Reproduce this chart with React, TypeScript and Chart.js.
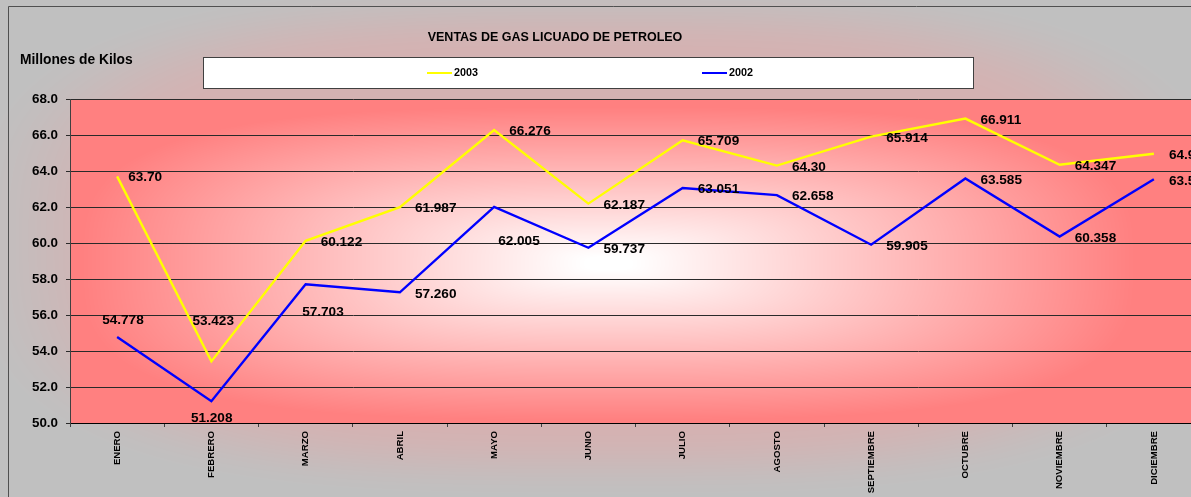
import React, { useEffect, useRef } from "react";
import { Chart, registerables } from "chart.js";

Chart.register(...registerables);

// ---- data ----
const months = ["ENERO", "FEBRERO", "MARZO", "ABRIL", "MAYO", "JUNIO", "JULIO", "AGOSTO", "SEPTIEMBRE", "OCTUBRE", "NOVIEMBRE", "DICIEMBRE"];
const ventas2003 = [63.7, 53.423, 60.122, 61.987, 66.276, 62.187, 65.709, 64.3, 65.914, 66.911, 64.347, 64.962];
const ventas2002 = [54.778, 51.208, 57.703, 57.26, 62.005, 59.737, 63.051, 62.658, 59.905, 63.585, 60.358, 63.541];
const labels2003 = ["63.70", "53.423", "60.122", "61.987", "66.276", "62.187", "65.709", "64.30", "65.914", "66.911", "64.347", "64.962"];
const labels2002 = ["54.778", "51.208", "57.703", "57.260", "62.005", "59.737", "63.051", "62.658", "59.905", "63.585", "60.358", "63.541"];
const yMin = 50;
const yMax = 68;
const yStep = 2;
const chartTitle = "VENTAS DE GAS LICUADO DE PETROLEO";
const yAxisTitle = "Millones de Kilos";
const seriesNames = ["2003", "2002"];

// ---- label placement (style: offsets of label text from its point) ----
const DEF: [number, number] = [15, 1.5];
const place2003: [number, number][] = [[11, 1.3], [-19, -40], DEF, DEF, DEF, DEF, DEF, DEF, DEF, DEF, DEF, DEF];
const place2002: [number, number][] = [[-15, -16.5], [-20.5, 17], [-3.5, 28], DEF, [4, 34], DEF, DEF, DEF, DEF, DEF, DEF, DEF];

const FONT = "'Liberation Sans', Arial, Helvetica, sans-serif";
const YELLOW = "#ffff00";
const BLUE = "#0000ff";

const CW = 1218;
const CH = 497;

function clamp01(v: number) {
  return v < 0 ? 0 : v > 1 ? 1 : v;
}
function smooth(a: number, b: number, t: number) {
  const x = clamp01((t - a) / (b - a));
  return x * x * (3 - 2 * x);
}
function pnorm(ax: number, ay: number, p: number) {
  return Math.pow(Math.pow(ax, p) + Math.pow(ay, p), 1 / p);
}

function buildBackdrop(area: any) {
  const c = document.createElement("canvas");
  c.width = CW;
  c.height = CH;
  const ctx = c.getContext("2d")!;
  const img = ctx.createImageData(CW, CH);
  const d = img.data;
  // outer (chart area) gradient
  const ocx = 600, ocy = 240, orx = 640, ory = 260;
  // plot area gradient
  const pcx = 608, pcy = (area.top + area.bottom) / 2 + 2;
  const prx = 560, pry = (area.bottom - area.top) / 2 + 4;
  for (let y = 0; y < CH; y++) {
    for (let x = 0; x < CW; x++) {
      const i = (y * CW + x) * 4;
      let r, g, b;
      if (x >= area.left && x <= area.right && y >= area.top && y <= area.bottom) {
        const t = pnorm(Math.abs(x - pcx) / prx, Math.abs(y - pcy) / pry, 3.2);
        const f = clamp01((t - 0.04) / 0.9);
        r = 255;
        g = 255 - 127 * f;
        b = 255 - 127 * f;
      } else {
        const t = pnorm(Math.abs(x - ocx) / orx, Math.abs(y - ocy) / ory, 3);
        const f = smooth(0.72, 1.0, t);
        r = 212 + (192 - 212) * f;
        g = 178 + (192 - 178) * f;
        b = 178 + (192 - 178) * f;
      }
      d[i] = r;
      d[i + 1] = g;
      d[i + 2] = b;
      d[i + 3] = 255;
    }
  }
  ctx.putImageData(img, 0, 0);
  return c;
}

const backdropPlugin = {
  id: "backdrop",
  beforeDraw(chart: any) {
    const ctx = chart.ctx;
    const area = chart.chartArea;
    if (!chart.$backdrop) chart.$backdrop = buildBackdrop(area);
    ctx.save();
    ctx.drawImage(chart.$backdrop, 0, 0);

    // outer frame (top + left visible)
    ctx.strokeStyle = "#505050";
    ctx.lineWidth = 1;
    ctx.beginPath();
    ctx.moveTo(8.5, CH + 5);
    ctx.lineTo(8.5, 6.5);
    ctx.lineTo(CW + 5, 6.5);
    ctx.stroke();

    // title
    ctx.fillStyle = "#000";
    ctx.textBaseline = "middle";
    ctx.textAlign = "center";
    ctx.font = `bold 12.5px ${FONT}`;
    ctx.fillText(chartTitle, 555, 38);

    // y axis title
    ctx.textAlign = "left";
    ctx.font = `bold 13.8px ${FONT}`;
    ctx.fillText(yAxisTitle, 20, 60);

    // legend box
    ctx.fillStyle = "#ffffff";
    ctx.fillRect(203.5, 57.5, 770, 31);
    ctx.strokeStyle = "#404040";
    ctx.strokeRect(203.5, 57.5, 770, 31);
    const items = [
      { name: seriesNames[0], color: YELLOW, x: 427 },
      { name: seriesNames[1], color: BLUE, x: 702 },
    ];
    ctx.font = `bold 10.8px ${FONT}`;
    for (const it of items) {
      ctx.strokeStyle = it.color;
      ctx.lineWidth = 2;
      ctx.beginPath();
      ctx.moveTo(it.x, 73);
      ctx.lineTo(it.x + 25, 73);
      ctx.stroke();
      ctx.fillStyle = "#000";
      ctx.fillText(it.name, it.x + 27, 73.5);
    }
    ctx.restore();
  },
};

const labelsPlugin = {
  id: "valueLabels",
  afterDatasetsDraw(chart: any) {
    const ctx = chart.ctx;
    ctx.save();
    ctx.font = `bold 13.6px ${FONT}`;
    ctx.fillStyle = "#000";
    ctx.textAlign = "left";
    ctx.textBaseline = "middle";
    const sets = [
      { labels: labels2003, place: place2003 },
      { labels: labels2002, place: place2002 },
    ];
    sets.forEach((s, di) => {
      const meta = chart.getDatasetMeta(di);
      meta.data.forEach((pt: any, i: number) => {
        const [dx, dy] = s.place[i];
        ctx.fillText(s.labels[i], pt.x + dx, pt.y + dy);
      });
    });
    ctx.restore();
  },
};

export default function App() {
  const ref = useRef<HTMLCanvasElement | null>(null);

  useEffect(() => {
    if (!ref.current) return;
    const chart = new Chart(ref.current, {
      type: "line",
      data: {
        labels: months,
        datasets: [
          {
            label: seriesNames[0],
            data: ventas2003,
            borderColor: YELLOW,
            backgroundColor: YELLOW,
            borderWidth: 2.4,
            pointRadius: 0,
            tension: 0,
            fill: false,
          },
          {
            label: seriesNames[1],
            data: ventas2002,
            borderColor: BLUE,
            backgroundColor: BLUE,
            borderWidth: 2.4,
            pointRadius: 0,
            tension: 0,
            fill: false,
          },
        ],
      },
      options: {
        animation: false,
        responsive: false,
        devicePixelRatio: 1,
        layout: { padding: { top: 99, right: 17, bottom: 0, left: 0 } },
        plugins: {
          legend: { display: false },
          title: { display: false },
          tooltip: { enabled: false },
        },
        scales: {
          x: {
            offset: true,
            grid: {
              offset: true,
              drawOnChartArea: false,
              drawTicks: true,
              tickLength: 4,
              color: "#404040",
            },
            border: { color: "#000", width: 1 },
            ticks: {
              autoSkip: false,
              maxRotation: 90,
              minRotation: 90,
              padding: 4,
              color: "#000",
              font: { family: FONT, size: 9.6, weight: "bold" },
            },
            afterFit: (s: any) => {
              s.height = 74;
            },
          },
          y: {
            min: yMin,
            max: yMax,
            grid: {
              color: "#2a2a2a",
              lineWidth: 1,
              drawTicks: true,
              tickLength: 4,
            },
            border: { color: "#404040", width: 1 },
            ticks: {
              stepSize: yStep,
              padding: 8,
              color: "#000",
              font: { family: FONT, size: 13.4, weight: "bold" },
              callback: (v: any) => Number(v).toFixed(1),
            },
            afterFit: (s: any) => {
              s.width = 70;
            },
          },
        },
      } as any,
      plugins: [backdropPlugin, labelsPlugin],
    });
    return () => chart.destroy();
  }, []);

  return (
    <div style={{ position: "fixed", left: 0, top: 0, width: 1191, height: 497, overflow: "hidden" }}>
      <canvas ref={ref} width={CW} height={CH} style={{ display: "block", width: CW, height: CH }} />
    </div>
  );
}
